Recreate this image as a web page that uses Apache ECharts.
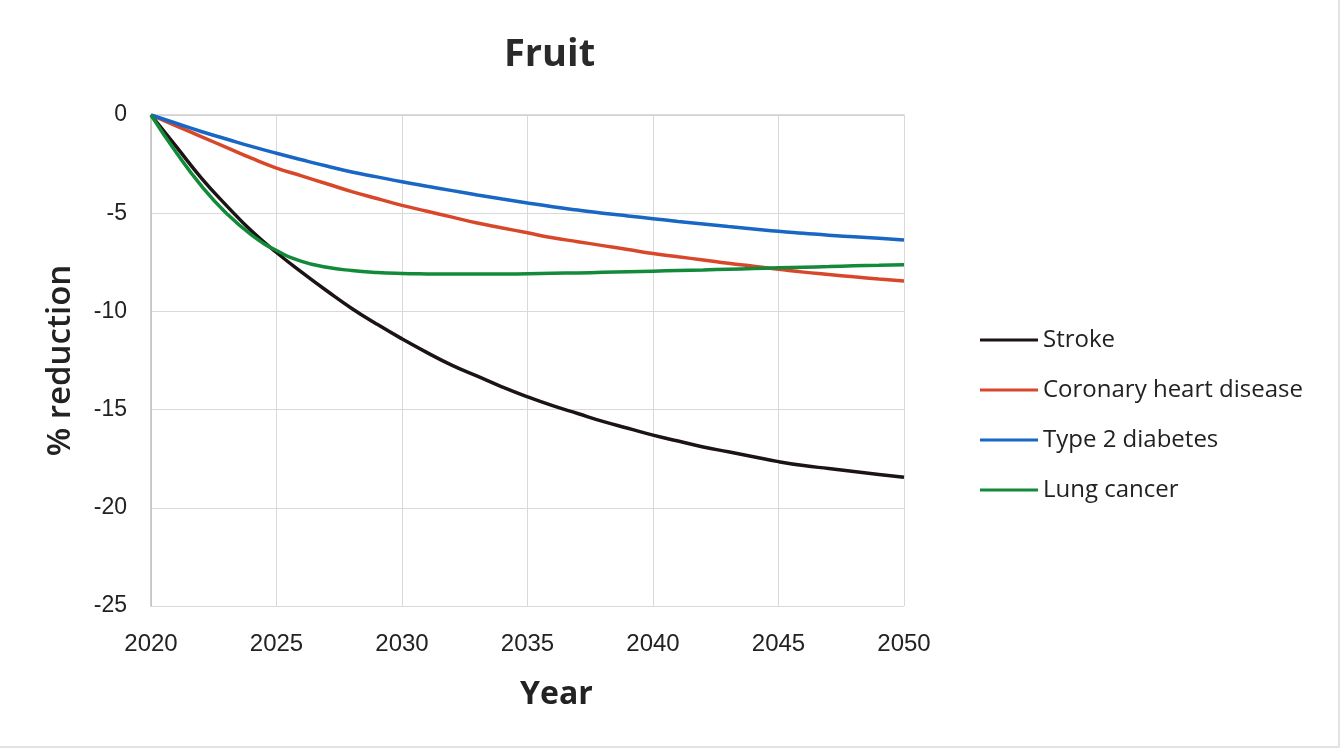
<!DOCTYPE html>
<html>
<head>
<meta charset="utf-8">
<script src="https://cdn.jsdelivr.net/npm/echarts@6/dist/echarts.min.js"></script>
<style>
html,body{margin:0;padding:0;background:#fff;}
#chart{width:1340px;height:748px;box-sizing:border-box;border-right:2px solid #e4e2e4;border-bottom:2px solid #e4e2e4;}
</style>
</head>
<body>
<div id="chart"></div>
<script>
// 年份
var years = [2020,2021,2022,2023,2024,2025,2026,2027,2028,2029,2030,2031,2032,2033,2034,2035,
             2036,2037,2038,2039,2040,2041,2042,2043,2044,2045,2046,2047,2048,2049,2050];
var stroke = [0,-1.6,-3.2,-4.6,-5.9,-7.0,-8.0,-8.95,-9.85,-10.65,-11.4,-12.1,-12.75,-13.3,-13.85,-14.35,
              -14.8,-15.2,-15.6,-15.95,-16.3,-16.6,-16.9,-17.15,-17.4,-17.65,-17.85,-18.0,-18.15,-18.3,-18.45];
var chd = [0,-0.55,-1.1,-1.65,-2.2,-2.7,-3.1,-3.5,-3.9,-4.25,-4.6,-4.9,-5.2,-5.5,-5.75,-6.0,
           -6.25,-6.45,-6.65,-6.85,-7.05,-7.22,-7.38,-7.55,-7.7,-7.85,-8.0,-8.12,-8.24,-8.35,-8.45];
var t2d = [0,-0.42,-0.84,-1.22,-1.6,-1.95,-2.28,-2.6,-2.9,-3.15,-3.4,-3.63,-3.85,-4.07,-4.28,-4.48,
           -4.67,-4.84,-5.0,-5.14,-5.28,-5.42,-5.55,-5.68,-5.8,-5.92,-6.02,-6.12,-6.2,-6.28,-6.37];
var lung = [0,-1.9,-3.6,-5.0,-6.1,-6.9,-7.45,-7.75,-7.92,-8.02,-8.07,-8.09,-8.1,-8.1,-8.1,-8.08,
            -8.06,-8.04,-8.01,-7.98,-7.95,-7.92,-7.89,-7.85,-7.82,-7.78,-7.75,-7.72,-7.68,-7.65,-7.62];
var seriesNames = ['Stroke','Coronary heart disease','Type 2 diabetes','Lung cancer'];
var seriesData = [stroke, chd, t2d, lung];
var colors = ['#1c1414','#d9472b','#1867c4','#128a3a'];

function pairs(arr){
	var out = [];
	for (var i = 0; i < years.length; i++) {
		out.push([years[i], arr[i]]);
	}
	return out;
}

var series = [];
for (var i = 0; i < seriesNames.length; i++) {
	series.push({
		name: seriesNames[i],
		type: 'line',
		data: pairs(seriesData[i]),
		smooth: true,
		showSymbol: false,
		symbol: 'none',
		lineStyle: {color: colors[i], width: 3.5},
		itemStyle: {color: colors[i]},
		z: i == 3 ? 4 : 3   // 绿线盖在黑线上面
	});
}

var myChart = echarts.init(document.getElementById('chart'));
var option = {
	animation: false,
	backgroundColor: '#fff',
	title: {
		text: 'Fruit',
		left: 499,
		top: 31,
		textStyle: {fontFamily: 'Open Sans', fontSize: 38, fontWeight: 'bold', color: '#2a2a2a'}
	},
	legend: {
		orient: 'vertical',
		left: 980,
		top: 328,
		padding: 0,
		icon: 'rect',
		itemWidth: 58,
		itemHeight: 3,
		itemGap: 26,
		data: seriesNames,
		textStyle: {fontFamily: 'Open Sans', fontSize: 24, color: '#222'}
	},
	graphic: [
		{
			type: 'text',
			left: 520,
			top: 679,
			style: {text: 'Year', fontFamily: 'Open Sans', fontSize: 32, fontWeight: 'bold', fill: '#222'}
		}
	],
	grid: {
		left: 151,
		right: 434,
		top: 115,
		bottom: 140,
		containLabel: false
	},
	xAxis: {
		type: 'value',
		min: 2020,
		max: 2050,
		interval: 5,
		axisLine: {show: true, lineStyle: {color: '#cfcfcf', width: 1.5}},
		axisTick: {show: false},
		splitLine: {show: true, lineStyle: {color: '#d9d9d9', width: 1}},
		axisLabel: {
			fontFamily: 'Liberation Sans', fontSize: 24, color: '#222', margin: 26,
			formatter: function(v){ return String(v); }
		}
	},
	yAxis: {
		type: 'value',
		min: -25,
		max: 0,
		interval: 5,
		name: '% reduction',
		nameLocation: 'middle',
		nameGap: 74,
		nameRotate: 90,
		nameTextStyle: {fontFamily: 'Open Sans', fontSize: 33, fontWeight: 600, color: '#222'},
		axisLine: {show: true, lineStyle: {color: '#bfbfbf', width: 1.5}},
		axisTick: {show: false},
		splitLine: {show: true, lineStyle: {color: '#d9d9d9', width: 1}},
		axisLabel: {fontFamily: 'Liberation Sans', fontSize: 23, color: '#222', margin: 24}
	},
	series: series
};
myChart.setOption(option);
</script>
</body>
</html>
